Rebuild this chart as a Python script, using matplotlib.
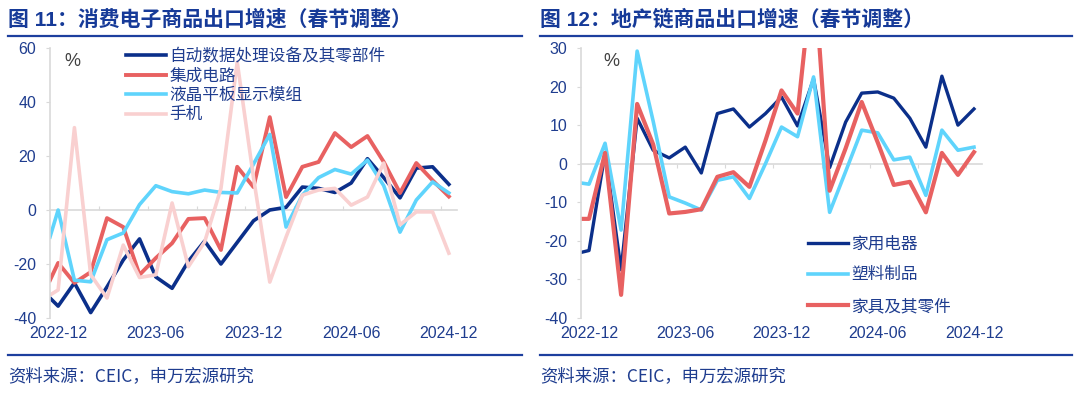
import numpy as np
import matplotlib
matplotlib.use('Agg')
import matplotlib.pyplot as plt
from matplotlib.lines import Line2D

plt.rcParams['font.family'] = ['Liberation Sans', 'Noto Sans CJK SC', 'DejaVu Sans']
plt.rcParams['axes.unicode_minus'] = False

# months: first value sits on the axis edge, then 2022-12 .. 2024-12
x_pos = np.r_[-0.5, np.arange(25)]
tick_pos = [0, 6, 12, 18, 24]
tick_labels = ['2022-12', '2023-06', '2023-12', '2024-06', '2024-12']

# left chart: consumer electronics export growth (%)
adp = [-32.6, -35.6, -27, -38, -28.5, -18.5, -10.7, -24.8, -29, -19, -11.5, -20, -12, -4, 0, 1,
       8.5, 8, 6.5, 10, 19, 12, 4.5, 15.5, 16, 9.5]
ic = [-26, -19.6, -27, -23, -3, -6.3, -24, -17.8, -12.3, -3.3, -3, -14.8, 16, 8.5, 34.4, 4.8,
      16, 17.8, 28.5, 23.3, 27.4, 17.8, 6.3, 17.4, 11, 5]
lcd = [-10, 0, -26, -26.6, -11, -8.5, 2, 9, 6.8, 6, 7.4, 6.5, 6.3, 17, 28, -6.3,
       5.5, 12, 15, 13.3, 18.5, 9, -8.2, 3.7, 10.4, 6.3]
phone = [-31.5, -29.6, 30.5, -24, -32.6, -13, -25, -24, 2.6, -21, -11.8, 8, 54.8, 12, -26.7, -10,
         5.5, 7.4, 8, 1.8, 4.8, 17.4, -5.5, -0.7, -0.7, -16]

# right chart: property-chain goods export growth (%)
appliance = [-23, -22.5, 2.8, -27.5, 11.8, 3.5, 1.5, 4.3, -2.4, 13, 14.2, 9.5, 13, 17.3, 9.8, 22,
             -1, 10.8, 18.3, 18.6, 17, 11.8, 4.3, 22.7, 10, 14.2]
plastic = [-5, -5.3, 5.3, -17.2, 29.2, 11, -8.6, -10.2, -12, -4.3, -3.4, -9, 0, 9.5, 7, 22.5,
           -12.6, -2, 8.7, 8, 1, 1.7, -8.2, 8.7, 3.5, 4.3]
furniture = [-14.3, -14.3, 2.8, -34, 15.5, 5, -12.9, -12.5, -11.8, -3.4, -2.2, -6, 6, 19, 13, 52,
             -7, 4, 16, 5.5, -5.5, -4.7, -12.6, 2.8, -2.9, 3]

navy = '#0b2f8a'
red = '#e86161'
cyan = '#5fd4fc'
pink = '#f9d0d0'
txt_blue = '#1f3d8f'
grey = '#d9d9d9'

fig = plt.figure(figsize=(10.8, 3.96), dpi=100)
ax1 = fig.add_axes([50/1080, 78/396, 407/1080, 270/396])
ax2 = fig.add_axes([581/1080, 78/396, 401/1080, 270/396])


def style(ax, ylo, yhi, step, pct_x):
    ax.set_xlim(-0.5, 24.5)
    ax.set_ylim(ylo, yhi)
    ax.set_yticks(np.arange(ylo, yhi + 1, step))
    for s in ['top', 'right', 'bottom']:
        ax.spines[s].set_visible(False)
    ax.spines['left'].set_color(grey)
    ax.spines['left'].set_linewidth(1.2)
    ax.tick_params(axis='y', colors=grey, labelcolor=txt_blue, labelsize=11.5, length=3, pad=7)
    ax.set_xticks(tick_pos)
    ax.set_xticklabels(tick_labels)
    ax.tick_params(axis='x', length=0, labelcolor=txt_blue, labelsize=11.5, pad=6)
    # zero line with small tick marks every 3 months
    sec = ax.secondary_xaxis((0 - ylo) / (yhi - ylo))
    sec.set_xticks(np.arange(2.5, 24, 3))
    sec.tick_params(direction='in', length=3, colors=grey, labelbottom=False, labeltop=False)
    for sp in sec.spines.values():
        sp.set_color(grey)
        sp.set_linewidth(1.2)
    ax.text(pct_x, 0.95, '%', transform=ax.transAxes, color='#404040', fontsize=13, va='center')


style(ax1, -40, 60, 20, 0.035)
style(ax2, -40, 30, 10, 0.055)

ax1.plot(x_pos, adp, color=navy, lw=2.6, label='自动数据处理设备及其零部件')
ax1.plot(x_pos, ic, color=red, lw=2.8, label='集成电路')
ax1.plot(x_pos, lcd, color=cyan, lw=2.6, label='液晶平板显示模组')
ax1.plot(x_pos, phone, color=pink, lw=2.6, label='手机')
leg1 = ax1.legend(loc='upper left', bbox_to_anchor=(0.17, 1.025), frameon=False, fontsize=12,
                  handlelength=2.4, handletextpad=0.2, labelspacing=0.25, borderaxespad=0)

ax2.plot(x_pos, appliance, color=navy, lw=2.4, label='家用电器')
ax2.plot(x_pos, plastic, color=cyan, lw=2.6, label='塑料制品')
ax2.plot(x_pos, furniture, color=red, lw=3.0, label='家具及其零件')
leg2 = ax2.legend(loc='lower left', bbox_to_anchor=(0.55, -0.01), frameon=False, fontsize=12,
                  handlelength=2.4, handletextpad=0.2, labelspacing=0.95, borderaxespad=0)

for leg in (leg1, leg2):
    for t in leg.get_texts():
        t.set_color(txt_blue)

# titles and rules
title_kw = dict(fontsize=15, fontweight='bold', color='#163a98', va='center',
                family=['Liberation Sans', 'Noto Sans CJK SC'])
fig.text(8/1080, 1 - 19/396, '图 11：消费电子商品出口增速（春节调整）', **title_kw)
fig.text(540/1080, 1 - 19/396, '图 12：地产链商品出口增速（春节调整）', **title_kw)
for x0, x1 in [(8, 522), (540, 1072)]:
    fig.add_artist(Line2D([x0/1080, x1/1080], [1 - 36/396] * 2, color='#1d3f9e', lw=1.6,
                          transform=fig.transFigure))
    fig.add_artist(Line2D([x0/1080, x1/1080], [1 - 355/396] * 2, color='#1d3f9e', lw=1.6,
                          transform=fig.transFigure))

src_kw = dict(fontsize=12.5, color=txt_blue, va='center', family=['Noto Sans CJK SC', 'DejaVu Sans'])
fig.text(8/1080, 1 - 376/396, '资料来源：CEIC，申万宏源研究', **src_kw)
fig.text(540/1080, 1 - 376/396, '资料来源：CEIC，申万宏源研究', **src_kw)

fig.savefig('out.png', dpi=100)
